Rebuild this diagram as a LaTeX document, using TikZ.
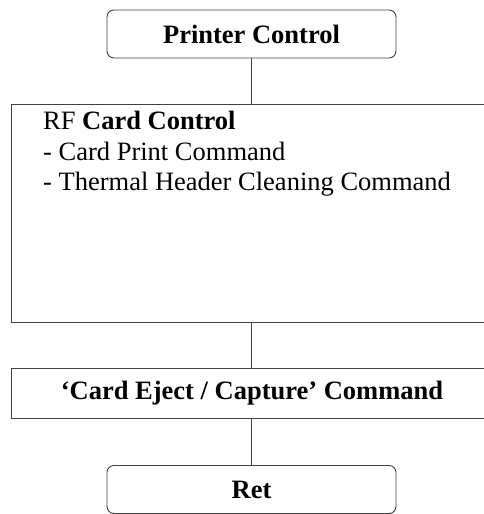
\documentclass[tikz,border=0pt]{standalone}
\usepackage{fontspec}
\setmainfont{Liberation Serif}
\usepackage{tikz}
\newcommand{\boxfont}{\fontsize{26.5}{30.5}\selectfont}
\tikzset{roundbox/.style={draw=black!75, line width=0.9pt, rounded corners=7pt, minimum width=289pt, minimum height=48pt, inner sep=0pt, font=\boxfont\bfseries},
  wide/.style={draw=black!75, line width=0.9pt, minimum width=489pt, inner sep=0pt, font=\boxfont},
  link/.style={draw=black!75, line width=0.9pt}}

\begin{document}
\begin{tikzpicture}[x=1pt, y=-1pt]
      \clip (0,0) rectangle (484,514);
      \node [roundbox] (printer) at (251.5,34) {Printer Control};
      \node [wide, minimum height=218pt] (rf) at (255.5,213) {};
      \node [anchor=north west, align=left, inner sep=0pt, font=\boxfont] (rftext) at (43,111) {RF \textbf{Card Control}\\- Card Print Command\\- Thermal Header Cleaning Command};
      \node [wide, minimum height=50pt, font=\boxfont\bfseries] (eject) at (255.5,393) {\hspace*{-7pt}`Card Eject / Capture' Command};
      \node [roundbox] (ret) at (251.5,489.5) {Ret};
      \draw [link] (printer) -- (printer |- rf.north) (printer |- rf.south) -- (printer |- eject.north) (printer |- eject.south) -- (ret);
    \end{tikzpicture}
\end{document}
